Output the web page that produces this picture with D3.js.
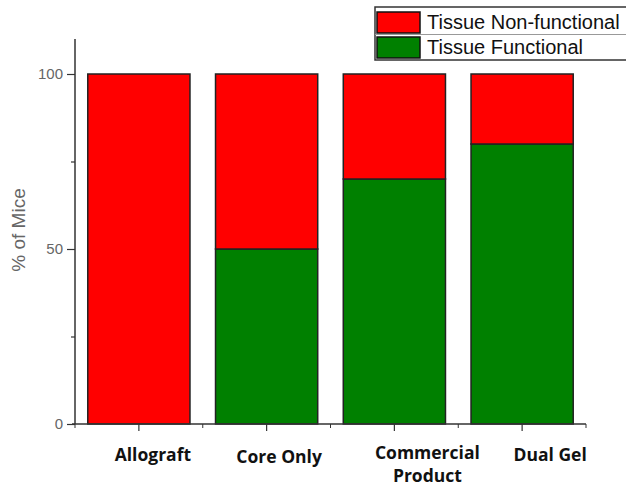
<!DOCTYPE html>
<html>
<head>
<meta charset="utf-8">
<script src="https://cdn.jsdelivr.net/npm/d3@7"></script>
<style>
  html, body { margin: 0; padding: 0; background: #fff; }
  svg { display: block; }
</style>
</head>
<body>
<svg id="chart" width="626" height="488"></svg>
<script>
// Outcome per group: percentage of mice with functional vs non-functional tissue
const groups = ["Allograft", "Core Only", "Commercial Product", "Dual Gel"];
const groupLabelLines = [["Allograft"], ["Core Only"], ["Commercial", "Product"], ["Dual Gel"]];
const functional = [0, 50, 70, 80];
const nonFunctional = [100, 50, 30, 20];
const yTicks = [0, 50, 100];
const yMinorTicks = [25, 75];
const seriesNames = ["Tissue Non-functional", "Tissue Functional"];
const seriesColors = ["#ff0000", "#008000"];

const svg = d3.select("#chart");

const x = d3.scaleBand()
  .domain(groups)
  .range([75, 586])
  .paddingInner(0.2)
  .paddingOuter(0.1);

const y = d3.scaleLinear().domain([0, 110]).range([424, 39]);

const rows = groups.map((g, i) => ({ group: g, functional: functional[i], nonFunctional: nonFunctional[i] }));
const stack = d3.stack().keys(["functional", "nonFunctional"]);
const layers = stack(rows);
const layerColor = { functional: seriesColors[1], nonFunctional: seriesColors[0] };

// stacked bars
svg.append("g").selectAll("g")
  .data(layers)
  .join("g")
  .attr("fill", d => layerColor[d.key])
  .selectAll("rect")
  .data(d => d.filter(s => s[1] - s[0] > 0))
  .join("rect")
  .attr("x", d => x(d.data.group))
  .attr("width", x.bandwidth())
  .attr("y", d => y(d[1]))
  .attr("height", d => y(d[0]) - y(d[1]))
  .attr("stroke", "#222")
  .attr("stroke-width", 1.5);

const axisColor = "#333";

// y axis
const yAxis = svg.append("g")
  .attr("transform", "translate(75,0)")
  .call(d3.axisLeft(y).tickValues(yTicks).tickSize(8).tickPadding(4));
yAxis.select(".domain").attr("d", `M0,${y(0)}V${y(110)}`);
svg.append("g")
  .attr("transform", "translate(75,0)")
  .call(d3.axisLeft(y).tickValues(yMinorTicks).tickSize(4).tickFormat(""))
  .select(".domain").remove();

// x axis: major ticks at group centres, minor at group boundaries
const xAxis = svg.append("g")
  .attr("transform", `translate(0,${y(0)})`)
  .call(d3.axisBottom(x).tickSize(7).tickFormat(""));
xAxis.select(".domain").attr("d", `M72,0H586`);
const boundaries = d3.range(groups.length + 1).map(i => x.range()[0] + i * x.step());
svg.append("g")
  .attr("transform", `translate(0,${y(0)})`)
  .selectAll("line")
  .data(boundaries)
  .join("line")
  .attr("x1", d => d).attr("x2", d => d)
  .attr("y1", 0).attr("y2", 4)
  .attr("stroke", axisColor);

svg.selectAll(".tick line, .domain")
  .attr("stroke", axisColor)
  .attr("stroke-width", 1.5);
svg.selectAll(".tick line").attr("stroke-width", 1.2);
yAxis.selectAll(".tick text")
  .attr("font-family", "Liberation Sans, Arial, sans-serif")
  .attr("font-size", 15)
  .attr("fill", "#666");

// y axis title
svg.append("text")
  .attr("transform", "translate(25,230) rotate(-90)")
  .attr("text-anchor", "middle")
  .attr("font-family", "Liberation Sans, Arial, sans-serif")
  .attr("font-size", 19)
  .attr("fill", "#666")
  .text("% of Mice");

// group labels
const labelOffsets = [14, 12.5, 33, 28];
const labelBaselines = [461, 463, 459, 461];
svg.append("g").selectAll("text")
  .data(groups)
  .join("text")
  .attr("x", (g, i) => x(g) + x.bandwidth() / 2 + labelOffsets[i])
  .attr("y", (g, i) => labelBaselines[i])
  .attr("text-anchor", "middle")
  .attr("font-family", "Open Sans, sans-serif")
  .attr("font-weight", "bold")
  .attr("font-size", 17.5)
  .attr("fill", "#111")
  .selectAll("tspan")
  .data((g, i) => groupLabelLines[i])
  .join("tspan")
  .attr("x", function () { return d3.select(this.parentNode).attr("x"); })
  .attr("dy", (d, j) => j === 0 ? 0 : 23)
  .text(d => d);

// legend
const legend = svg.append("g");
legend.append("rect")
  .attr("x", 375).attr("y", 7)
  .attr("width", 260).attr("height", 53)
  .attr("fill", "#fff")
  .attr("stroke", "#333")
  .attr("stroke-width", 1.5);
legend.append("line")
  .attr("x1", 375).attr("x2", 626)
  .attr("y1", 34.5).attr("y2", 34.5)
  .attr("stroke", "#999").attr("stroke-width", 1);
seriesNames.forEach((name, i) => {
  const top = 12 + i * 25;
  legend.append("rect")
    .attr("x", 377).attr("y", top)
    .attr("width", 43).attr("height", 21)
    .attr("fill", seriesColors[i])
    .attr("stroke", "#111")
    .attr("stroke-width", 1.5);
  legend.append("text")
    .attr("x", 427).attr("y", top + 17)
    .attr("font-family", "Liberation Sans, Arial, sans-serif")
    .attr("font-size", 20)
    .attr("fill", "#111")
    .text(name);
});
</script>
</body>
</html>
